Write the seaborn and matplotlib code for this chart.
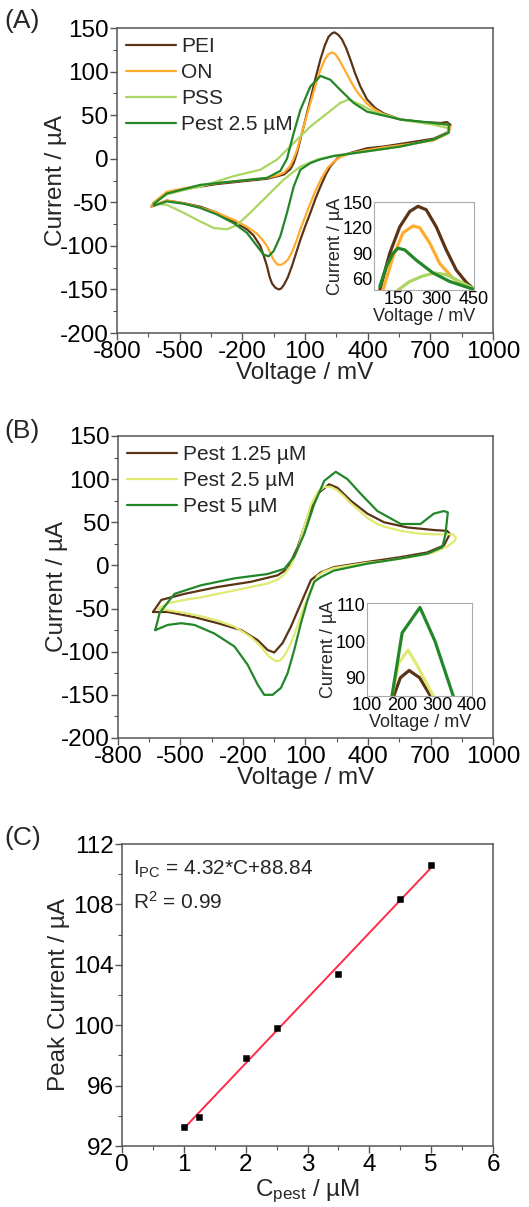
import numpy as np
import pandas as pd
import seaborn as sns
import matplotlib.pyplot as plt
from matplotlib.ticker import MultipleLocator, AutoMinorLocator

# ---------- Panel A: CV curves (voltage mV, current uA) ----------
pei_v = [-624, -561, -481, -401, -321, -241, -162, -82, -30, 0, 30, 46, 62, 78, 102, 126, 150, 174, 195, 213, 230, 242, 260, 277, 297, 317, 340, 365, 397, 437, 477, 557, 668, 750, 780, 796,
         790, 780, 716, 637, 557, 477, 397, 317, 280, 253, 221, 200, 174, 150, 126, 102, 78, 58, 38, 18, 0, -14, -26, -42, -58, -70, -82, -98, -114, -146, -178, -241, -321, -401, -481, -561, -616, -635, -624]
pei_i = [-51, -39, -35, -32, -29, -27, -25, -23, -20, -18, -12, -5, 7, 22, 45, 68, 92, 114, 130, 140, 144, 145, 142, 137, 127, 114, 98, 83, 68, 58, 52, 45, 42, 41, 42, 39,
         33, 30, 23, 20, 17, 14, 12, 6.6, 4, 0, -9, -18, -32, -46, -62, -77, -93, -108, -123, -136, -144.5, -149, -150, -148, -143, -135, -123, -111, -100, -88, -81, -72, -62, -55, -51, -48, -53, -55, -51]

on_v = [-624, -561, -481, -401, -321, -241, -162, -82, -30, 0, 30, 46, 62, 78, 102, 126, 150, 174, 195, 213, 229, 245, 265, 290, 317, 340, 365, 397, 437, 477, 557, 668, 750, 785, 796,
        788, 770, 716, 637, 557, 477, 397, 317, 270, 240, 210, 180, 150, 126, 102, 78, 58, 38, 18, 0, -18, -34, -50, -66, -82, -100, -130, -178, -241, -321, -401, -481, -561, -620, -635, -624]
on_i = [-50, -38, -34, -31, -28, -26, -24, -22, -19, -16, -8, 0, 10, 24, 44, 64, 84, 102, 114, 120, 122, 120, 113, 102, 90, 80, 72, 63, 56, 51, 45, 41, 40, 39, 36,
        30, 27, 21, 18, 15.5, 13, 10, 6, 2, -3, -10, -22, -37, -51, -66, -81, -95, -107, -116, -120, -122, -121, -116, -108, -100, -94, -86, -78, -70, -62, -56, -51, -48, -53, -55, -50]

pss_v = [-624, -561, -481, -401, -321, -241, -114, -34, 46, 126, 206, 269, 309, 365, 429, 557, 716, 788,
         780, 716, 557, 397, 237, 158, 78, -2, -82, -162, -225, -273, -337, -401, -481, -561, -624]
pss_i = [-51, -41, -36, -32, -26, -20, -12.6, -1, 18, 37, 52, 64, 68, 62, 54, 45, 39, 35,
         29.5, 22, 14, 8.5, 3.5, -1, -9, -24, -43, -62, -76, -81, -79.5, -72, -62, -53, -51]

pa_v = [-624, -561, -481, -401, -321, -241, -162, -82, -18, 14, 46, 78, 126, 174, 221, 269, 333, 397, 557, 716, 788,
        788, 716, 557, 397, 237, 174, 126, 78, 46, 14, -18, -50, -74, -98, -130, -178, -241, -321, -401, -481, -561, -624]
pa_i = [-52, -40, -35, -30, -28, -26, -24, -22, -14, 0, 29.5, 56, 83, 95, 90.7, 79, 64, 54, 45, 41, 39,
        30, 22, 14, 8.5, 3, -0.7, -5, -12.6, -32, -62, -89, -106, -112, -110, -100, -85, -74, -64, -56.5, -51.6, -49, -54]

# inset A (zoom on anodic peak)
ia_pei_v = [73, 113, 153, 193, 226, 259, 299, 339, 379, 419, 446]
ia_pei_i = [47, 90, 121, 139, 145, 141, 121, 94, 70.5, 56, 49]
ia_on_v = [86, 126, 166, 206, 233, 273, 313, 366, 419, 446]
ia_on_i = [47, 86, 114, 122, 120, 102, 78, 61, 52, 49]
ia_pss_v = [146, 193, 246, 293, 339, 393, 446]
ia_pss_i = [47, 57, 63.5, 67, 65, 57, 49]
ia_pa_v = [73, 99, 126, 146, 173, 219, 286, 353, 446]
ia_pa_i = [51, 74, 90, 96, 94, 82, 67, 57, 48]

# ---------- Panel B ----------
p125_v = [-632, -592, -481, -321, -162, -34, 14, 62, 110, 158, 213, 253, 317, 397, 477, 589, 716, 780, 793,
          764, 684, 557, 397, 237, 174, 126, 78, 30, -10, -50, -82, -130, -209, -321, -433, -561, -624, -632]
p125_i = [-54, -40, -33, -25, -19, -11.5, -4, 21, 56, 83, 94, 90, 75, 60, 50, 44, 41, 40, 36.5,
          23, 15, 9.6, 4, -2, -8, -17, -44, -71, -90, -101, -98, -86.5, -75, -67, -60, -54, -54, -54]

p25_v = [-608, -561, -481, -401, -321, -241, -162, -82, -30, 0, 30, 62, 94, 126, 158, 190, 221, 253, 285, 317, 365, 397, 445, 477, 557, 637, 716, 780, 808, 822,
         815, 780, 716, 637, 557, 477, 397, 317, 237, 190, 158, 142, 126, 110, 94, 78, 62, 46, 30, 14, 0, -20, -42, -62, -82, -114, -162, -241, -321, -401, -481, -561, -608]
p25_i = [-50, -44, -40, -37, -33, -29, -25, -21, -16, -10, 0, 18, 45, 70, 85, 91, 91, 87, 80, 72, 62, 55, 48, 45, 40, 37, 36, 36, 36, 32,
         28, 22, 15, 11, 8, 5, 3, 0, -3, -7, -12, -19, -28, -38, -47, -58, -70, -80, -90, -98, -104, -110, -111, -108, -104, -94, -83, -71, -64, -59, -55, -52, -50]

p5_v = [-621, -600, -529, -401, -241, -82, -2, 46, 94, 142, 190, 245, 301, 365, 445, 557, 652, 716, 764, 783,
        772, 756, 684, 557, 397, 237, 174, 142, 110, 78, 46, 14, -18, -58, -98, -130, -178, -241, -337, -433, -497, -561, -621]
p5_i = [-75, -55, -33, -23, -15, -10, -4, 10, 36.5, 71, 98, 108.5, 100, 83, 63, 48, 48, 60, 63, 61.5,
        36.5, 21, 13.5, 8, 2, -6, -13.5, -19, -40, -67, -98, -125, -142, -150, -150, -138, -115, -94, -79, -69, -67, -69, -75]

# inset B
ib_p5_v = [171, 200, 251, 294, 346]
ib_p5_i = [85, 102.3, 109.3, 100, 85]
ib_p25_v = [171, 190, 217, 245, 289]
ib_p25_i = [85, 94, 97.6, 93, 85]
ib_p125_v = [176, 195, 220, 250, 281]
ib_p125_i = [85, 90, 92, 90, 85]

# ---------- Panel C ----------
conc = [1, 1.25, 2, 2.5, 3.5, 4.5, 5]
peak = [93.28, 93.94, 97.8, 99.79, 103.39, 108.36, 110.6]
slope, intercept = 4.32, 88.84

c_brown = "#5b3416"
c_orange = "#ffab2e"
c_light = "#acd662"
c_green = "#23872a"
c_yellow = "#dfea72"

sns.set_theme(style="ticks")
plt.rcParams['font.family'] = ['Liberation Sans', 'DejaVu Sans']
plt.rcParams['mathtext.default'] = 'regular'
plt.rcParams['axes.unicode_minus'] = False
plt.rcParams['axes.edgecolor'] = '#555555'
plt.rcParams['xtick.color'] = '#555555'
plt.rcParams['ytick.color'] = '#555555'
plt.rcParams['xtick.labelcolor'] = 'black'
plt.rcParams['ytick.labelcolor'] = 'black'

FS = 17.5     # tick / axis label size
LFS = 15      # legend size
IFS = 13      # inset text size

fig = plt.figure(figsize=(5.29, 12.07), dpi=100)


def cv(ax, v, i, color, label=None, lw=1.6):
    sns.lineplot(x=v, y=i, sort=False, estimator=None, color=color, lw=lw, label=label, ax=ax)


def style_main(ax, xlim, ylim, xmaj, ymaj):
    ax.set_xlim(*xlim)
    ax.set_ylim(*ylim)
    ax.xaxis.set_major_locator(MultipleLocator(xmaj))
    ax.yaxis.set_major_locator(MultipleLocator(ymaj))
    ax.xaxis.set_minor_locator(AutoMinorLocator(2))
    ax.yaxis.set_minor_locator(AutoMinorLocator(2))
    ax.tick_params(which='major', length=5, width=1, labelsize=FS, direction='out', pad=1)
    ax.tick_params(which='minor', length=3, width=0.8, direction='out')
    for s in ax.spines.values():
        s.set_linewidth(1.1)


def style_inset(ax):
    ax.tick_params(labelsize=IFS, length=0, pad=1)
    for s in ax.spines.values():
        s.set_color('#aaaaaa')
        s.set_linewidth(0.8)
    ax.set_xlabel("Voltage / mV", fontsize=IFS, labelpad=0)
    ax.set_ylabel("Current / µA", fontsize=IFS, labelpad=-1)


def add_legend(ax):
    ax.legend(loc='upper left', frameon=False, fontsize=LFS, handlelength=2.4,
              labelspacing=0.33, borderaxespad=0.05, handletextpad=0.25)


# ---- A ----
axA = fig.add_axes([0.221, 0.7241, 0.711, 0.2527])
cv(axA, pei_v, pei_i, c_brown, "PEI")
cv(axA, on_v, on_i, c_orange, "ON")
cv(axA, pss_v, pss_i, c_light, "PSS")
cv(axA, pa_v, pa_i, c_green, "Pest 2.5 µM")
style_main(axA, (-800, 1000), (-200, 150), 300, 50)
axA.set_xticks([-800, -500, -200, 100, 400, 700, 1000])
axA.set_xlabel("Voltage / mV", fontsize=FS, labelpad=-1)
axA.set_ylabel("Current / µA", fontsize=FS)
axA.yaxis.set_label_coords(-0.133, 0.5)
add_legend(axA)
fig.text(0.008, 0.983, "(A)", fontsize=19, va='center')

insA = fig.add_axes([0.707, 0.7597, 0.189, 0.0729])
cv(insA, ia_pei_v, ia_pei_i, c_brown, lw=2.3)
cv(insA, ia_on_v, ia_on_i, c_orange, lw=2.3)
cv(insA, ia_pss_v, ia_pss_i, c_light, lw=2.3)
cv(insA, ia_pa_v, ia_pa_i, c_green, lw=2.3)
insA.set_xlim(50, 450)
insA.set_ylim(47, 150)
insA.set_xticks([150, 300, 450])
insA.set_yticks([60, 90, 120, 150])
style_inset(insA)

# ---- B ----
axB = fig.add_axes([0.223, 0.3886, 0.709, 0.2502])
cv(axB, p125_v, p125_i, c_brown, "Pest 1.25 µM")
cv(axB, p25_v, p25_i, c_yellow, "Pest 2.5 µM")
cv(axB, p5_v, p5_i, c_green, "Pest 5 µM")
style_main(axB, (-800, 1000), (-200, 150), 300, 50)
axB.set_xticks([-800, -500, -200, 100, 400, 700, 1000])
axB.set_xlabel("Voltage / mV", fontsize=FS, labelpad=-1)
axB.set_ylabel("Current / µA", fontsize=FS)
axB.yaxis.set_label_coords(-0.133, 0.5)
add_legend(axB)
fig.text(0.008, 0.643, "(B)", fontsize=19, va='center')

insB = fig.add_axes([0.694, 0.4234, 0.1985, 0.077])
cv(insB, ib_p125_v, ib_p125_i, c_brown, lw=2.3)
cv(insB, ib_p25_v, ib_p25_i, c_yellow, lw=2.3)
cv(insB, ib_p5_v, ib_p5_i, c_green, lw=2.3)
insB.set_xlim(100, 400)
insB.set_ylim(85, 110.5)
insB.set_xticks([100, 200, 300, 400])
insB.set_yticks([90, 100, 110])
style_inset(insB)

# ---- C ----
axC = fig.add_axes([0.2306, 0.0505, 0.7014, 0.2502])
fit_x = np.array([conc[0], conc[-1]])
sns.lineplot(x=fit_x, y=slope * fit_x + intercept, color='#ff2a4a', lw=1.4, ax=axC)
sns.scatterplot(x=conc, y=peak, marker='s', color='black', s=22, edgecolor='black', zorder=3, ax=axC)
style_main(axC, (0, 6), (92, 112), 1, 4)
axC.set_xlabel("C$_{pest}$ / µM", fontsize=FS, labelpad=1)
axC.set_ylabel("Peak Current / µA", fontsize=FS)
axC.yaxis.set_label_coords(-0.14, 0.5)
axC.text(0.03, 0.95, "I$_{PC}$ = 4.32*C+88.84", transform=axC.transAxes, fontsize=LFS, va='top')
axC.text(0.03, 0.845, "R$^2$ = 0.99", transform=axC.transAxes, fontsize=LFS, va='top')
fig.text(0.008, 0.306, "(C)", fontsize=19, va='center')

fig.savefig("out.png", dpi=100)
